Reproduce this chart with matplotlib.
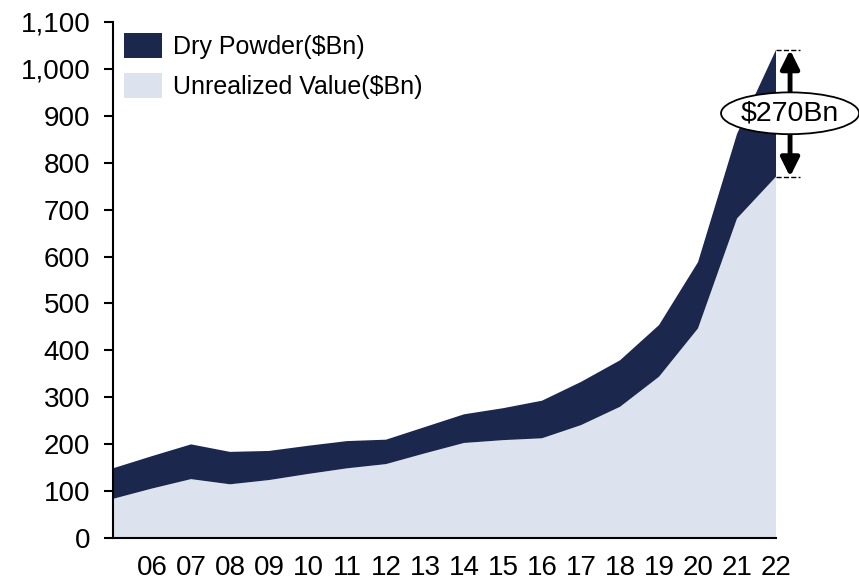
import matplotlib
matplotlib.use("Agg")
from matplotlib import pyplot as plt
from matplotlib.patches import Ellipse
from matplotlib.ticker import FuncFormatter

plt.rcParams['font.family'] = ['Liberation Sans', 'DejaVu Sans']

years = list(range(5, 23))
year_labels = ['06', '07', '08', '09', '10', '11', '12', '13', '14', '15',
               '16', '17', '18', '19', '20', '21', '22']
unrealized = [84, 106, 126, 115, 124, 137, 149, 158, 181, 203, 209, 213,
              241, 280, 344, 447, 681, 770]
dry_powder = [65, 69, 74, 69, 62, 60, 58, 52, 56, 61, 68, 80,
              92, 99, 110, 141, 180, 270]

dark = '#1b274c'
light = '#dce3ee'

fig = plt.figure(figsize=(8.59, 5.8), dpi=100)
ax = fig.add_axes([0.1316, 0.0719, 0.9034 - 0.1316, 0.9626 - 0.0719])

polys = ax.stackplot(years, unrealized, dry_powder, colors=[light, dark],
                     labels=['Unrealized Value($Bn)', 'Dry Powder($Bn)'],
                     linewidth=0)

ax.set_xlim(5, 22)
ax.set_ylim(0, 1100)
ax.set_yticks(range(0, 1101, 100))
ax.yaxis.set_major_formatter(FuncFormatter(lambda v, p: f'{int(v):,}'))
ax.set_xticks(years[1:])
ax.set_xticklabels(year_labels)

for s in ['top', 'right']:
    ax.spines[s].set_visible(False)
ax.spines['left'].set_linewidth(1.5)
ax.spines['bottom'].set_linewidth(1.5)
ax.tick_params(axis='y', direction='out', length=6.5, width=1.5, pad=10, labelsize=20)
ax.tick_params(axis='x', length=0, pad=12, labelsize=20)

handles, labels = ax.get_legend_handles_labels()
ax.legend(handles[::-1], labels[::-1], loc='upper left', frameon=False,
          fontsize=18, handlelength=1.52, handleheight=1.16, handletextpad=0.44,
          labelspacing=0.55, borderpad=0.1, borderaxespad=0.35)

# $270Bn annotation on the last year
ax_x = 22.36
top_val = unrealized[-1] + dry_powder[-1]
bot_val = unrealized[-1]
mid_val = 905
ax.hlines([top_val, bot_val], 22, 22.62, colors='black', linestyles='dashed',
          linewidth=1, clip_on=False)
for end in (top_val, bot_val):
    ax.annotate('', xy=(ax_x, end), xytext=(ax_x, mid_val),
                arrowprops=dict(arrowstyle='-|>', lw=3.5, color='black',
                                mutation_scale=28, shrinkA=0, shrinkB=0),
                annotation_clip=False)
ell = Ellipse((ax_x, mid_val), width=3.54, height=89, facecolor='white',
              edgecolor='black', linewidth=1.3, clip_on=False, zorder=5)
ax.add_patch(ell)
ax.text(ax_x, mid_val, '$270Bn', ha='center', va='center', fontsize=20.5,
        zorder=6, clip_on=False)

fig.savefig('out.png', dpi=100)
